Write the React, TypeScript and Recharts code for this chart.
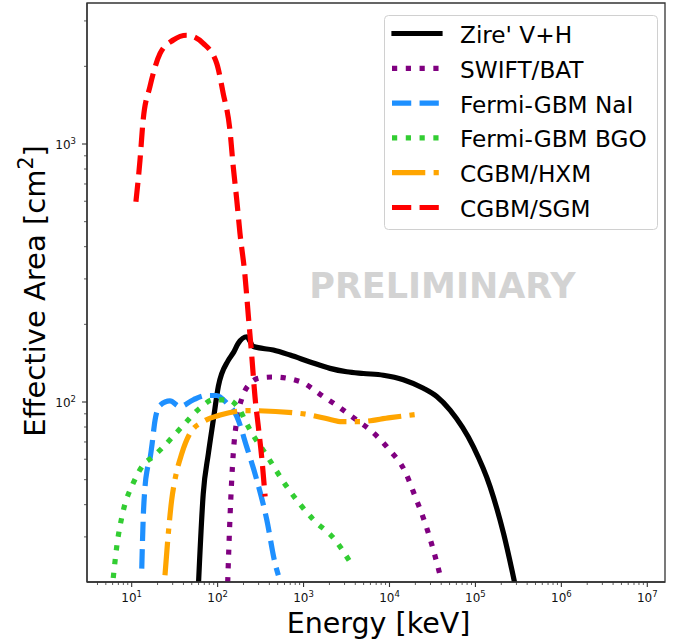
import React from 'react'
import { LineChart, Line, XAxis, YAxis, Legend, ReferenceArea } from 'recharts'

// energies in keV, effective areas in cm^2
const zireE = [60, 68, 78, 89, 102, 133, 152, 174, 218, 261, 445, 697, 1190, 2030, 3180, 4970, 8490, 14500, 24800, 35500, 50700, 94800, 148000, 212000, 295000]
const zireA = [20, 44, 63, 85, 115, 145, 155, 169, 179, 164, 159, 152, 143, 135, 131, 129, 127, 122, 113, 105, 93, 67, 47, 31, 19]

const batE = [131, 139, 152, 167, 191, 228, 312, 445, 912, 1700, 2430, 4170, 5940, 9700, 15200, 19900, 26000, 32400, 38800]
const batA = [20, 35, 63, 85, 103, 116, 124, 125, 120, 105, 97, 85, 78, 66, 53.7, 43, 33.9, 26.7, 21.3]

const naiE = [13.1, 13.6, 14.3, 15.2, 16.3, 17.1, 18.7, 21.3, 27.9, 36.5, 52, 75, 97, 128, 167, 218, 285, 373, 466, 509]
const naiA = [22.6, 35, 47, 55, 60, 67, 85, 97, 101, 96, 102, 106, 106, 99, 88, 67, 50, 35, 23.7, 21.3]

const bgoE = [6.1, 6.7, 8.0, 10.4, 13.6, 17.8, 23.3, 38.2, 62, 89, 128, 182, 208, 238, 373, 637, 1300, 2330, 3470]
const bgoA = [20.8, 27.5, 38, 48.4, 57, 61.4, 67, 80, 94.6, 102, 102, 93, 85, 78, 62, 47, 35, 29.2, 24]

const hxmE = [24.4, 26.7, 29.2, 31.9, 38.2, 47.8, 68.3, 107, 218, 912, 2220, 2660, 4550, 10200, 20800]
const hxmA = [21.3, 31, 41.7, 50, 63, 75.7, 84, 89, 92.6, 90.3, 85, 84, 84, 87, 89.6]

const sgmE = [11.2, 12.5, 13.6, 16.3, 21.4, 30.5, 43.6, 68, 97.6, 116, 139, 152, 167, 182, 208, 228, 250, 272, 298, 326, 357]
const sgmA = [597, 867, 1240, 1667, 2244, 2530, 2640, 2455, 2055, 1574, 1133, 817, 607, 451, 310, 215, 150, 105, 80, 61, 43]

const xMajor = [10, 100, 1000, 10000, 100000, 1000000, 10000000]
const yMajor = [100, 1000]
const X_DOMAIN = [3.02, 1.607e7]
const Y_DOMAIN = [20.06, 3520]

const LW = 5.2
const DOT = `${LW} ${LW * 1.65}`
const DASH = `${LW * 3.7} ${LW * 1.6}`
const DASHDOT = `${LW * 6.4} ${LW * 1.6} ${LW} ${LW * 1.6}`

const series = [
  { name: "Zire' V+H", e: zireE, a: zireA, color: '#000000', dash: undefined },
  { name: 'SWIFT/BAT', e: batE, a: batA, color: '#800080', dash: DOT },
  { name: 'Fermi-GBM NaI', e: naiE, a: naiA, color: '#1e90ff', dash: DASH },
  { name: 'Fermi-GBM BGO', e: bgoE, a: bgoA, color: '#32cd32', dash: DOT },
  { name: 'CGBM/HXM', e: hxmE, a: hxmA, color: '#ffa500', dash: DASHDOT },
  { name: 'CGBM/SGM', e: sgmE, a: sgmA, color: '#ff0000', dash: DASH },
]

const FONT = '"DejaVu Sans", sans-serif'
const AXIS = '#333'

function withMinor(majors: number[], lo: number, hi: number) {
  const out: number[] = []
  for (const d of [majors[0] / 10, ...majors]) {
    for (let k = 1; k <= 9; k++) {
      const v = k * d
      if (v >= lo && v <= hi) out.push(v)
    }
  }
  return out
}

const xTicks = withMinor(xMajor, X_DOMAIN[0], X_DOMAIN[1])
const yTicks = withMinor(yMajor, Y_DOMAIN[0], Y_DOMAIN[1])

function XTick(props: any) {
  const { x, y, payload } = props
  const v = payload.value
  const major = xMajor.includes(v)
  return (
    <g>
      <line x1={x} x2={x} y1={y} y2={y + (major ? 5 : 3)} stroke={AXIS} strokeWidth={major ? 1.1 : 0.8} />
      {major && (
        <text x={x} y={y + 20} textAnchor="middle" fontSize={12} fill="#111" fontFamily={FONT}>
          10<tspan dy={-5.5} fontSize={8.5}>{Math.round(Math.log10(v))}</tspan>
        </text>
      )}
    </g>
  )
}

function YTick(props: any) {
  const { x, y, payload } = props
  const v = payload.value
  const major = yMajor.includes(v)
  return (
    <g>
      <line x1={x} x2={x - (major ? 5 : 3)} y1={y} y2={y} stroke={AXIS} strokeWidth={major ? 1.1 : 0.8} />
      {major && (
        <text x={x - 11} y={y + 5} textAnchor="end" fontSize={12} fill="#111" fontFamily={FONT}>
          10<tspan dy={-5.5} fontSize={8.5}>{Math.round(Math.log10(v))}</tspan>
        </text>
      )}
    </g>
  )
}

function LegendBox() {
  const w = 274
  const h = 215
  return (
    <svg width={w} height={h} style={{ display: 'block' }}>
      <rect x={0.5} y={0.5} width={w - 1} height={h - 1} rx={4} fill="#fff" fillOpacity={0.8} stroke="#d0d0d0" />
      {series.map((s, i) => {
        const cy = 18.5 + i * 34.8
        return (
          <g key={s.name}>
            <line
              x1={s.dash ? 8 : 10}
              x2={s.dash ? 58 : 56}
              y1={cy}
              y2={cy}
              stroke={s.color}
              strokeWidth={LW}
              strokeDasharray={s.dash}
              strokeLinecap={s.dash ? 'butt' : 'square'}
            />
            <text x={76} y={cy + 9.5} fontSize={23.2} fontFamily={FONT} fill="#000">
              {s.name}
            </text>
          </g>
        )
      })}
    </svg>
  )
}

export default function App() {
  return (
    <div style={{ position: 'absolute', left: 0, top: 0, width: 673, height: 641, background: '#fff' }}>
      <LineChart width={673} height={641} margin={{ top: 3, right: 8, left: 27, bottom: 19 }}>
        <XAxis
          dataKey="e"
          type="number"
          scale="log"
          domain={X_DOMAIN}
          allowDataOverflow
          ticks={xTicks}
          interval={0}
          tick={<XTick />}
          tickLine={false}
          tickSize={0}
          tickMargin={0}
          height={40}
          axisLine={{ stroke: AXIS, strokeWidth: 1.3 }}
        />
        <YAxis
          dataKey="a"
          type="number"
          scale="log"
          domain={Y_DOMAIN}
          allowDataOverflow
          ticks={yTicks}
          interval={0}
          tick={<YTick />}
          tickLine={false}
          tickSize={0}
          tickMargin={0}
          width={60}
          axisLine={{ stroke: AXIS, strokeWidth: 1.3 }}
        />
        <ReferenceArea
          x1={X_DOMAIN[0]}
          x2={X_DOMAIN[1]}
          y1={Y_DOMAIN[0]}
          y2={Y_DOMAIN[1]}
          ifOverflow="visible"
          fill="none"
          fillOpacity={0}
          stroke={AXIS}
          strokeWidth={1.3}
        />
        <text x={442.5} y={298} textAnchor="middle" fontSize={35} fontWeight="bold" fill="#d3d3d3" fontFamily={FONT}>
          PRELIMINARY
        </text>
        {series.map((s) => (
          <Line
            key={s.name}
            name={s.name}
            data={s.e.map((e, i) => ({ e, a: s.a[i] }))}
            dataKey="a"
            type="monotone"
            stroke={s.color}
            strokeWidth={LW}
            strokeDasharray={s.dash}
            dot={false}
            activeDot={false}
            isAnimationActive={false}
          />
        ))}
        <text x={286.7} y={633} fontSize={28.5} fill="#000" fontFamily={FONT}>
          Energy [keV]
        </text>
        <text x={45} y={291} transform="rotate(-90 45 291)" textAnchor="middle" fontSize={29} fill="#000" fontFamily={FONT}>
          Effective Area [cm<tspan dy={-12} fontSize={20.5}>2</tspan><tspan dy={12}>]</tspan>
        </text>
        <Legend
          content={() => <LegendBox />}
          layout="vertical"
          align="center"
          verticalAlign="middle"
          wrapperStyle={{ left: 384, top: 15, width: 274, height: 215 }}
        />
      </LineChart>
    </div>
  )
}
